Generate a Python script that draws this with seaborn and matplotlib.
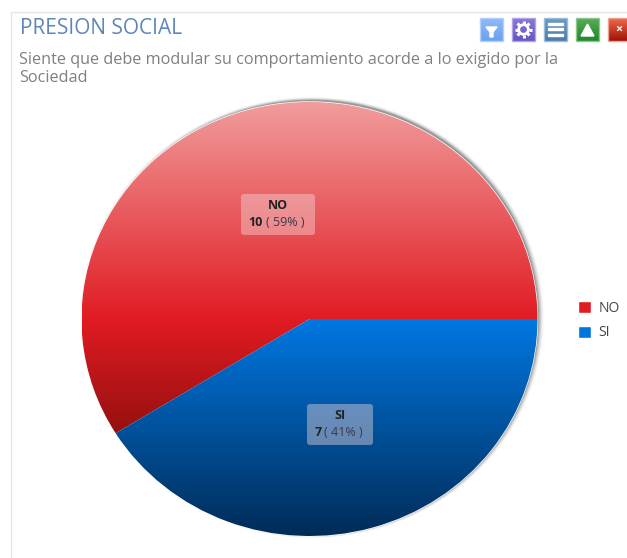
import numpy as np
import matplotlib
matplotlib.use("Agg")
import matplotlib.pyplot as plt
from matplotlib.colors import LinearSegmentedColormap
from matplotlib.patches import Ellipse, FancyBboxPatch, Polygon, Rectangle, Circle
import seaborn as sns

categories = ["NO", "SI"]
counts = [10, 7]
percents = [59, 41]
title = "PRESION SOCIAL"
subtitle = "Siente que debe modular su comportamiento acorde a lo exigido por la\nSociedad"

sns.set_theme(style="white")
plt.rcParams["font.family"] = ["Open Sans", "DejaVu Sans"]

W, H = 627, 558
palette = sns.color_palette(["#e01b22", "#0075dc"])
fig = plt.figure(figsize=(W / 100, H / 100), dpi=100, facecolor="white")

bg = fig.add_axes([0, 0, 1, 1], zorder=0)
bg.set_xlim(0, W); bg.set_ylim(H, 0); bg.axis("off")
bg.plot([11, 11, W], [H, 12, 12], color="#e2e7eb", lw=1.0)
bg.text(20, 29, title, fontsize=15, color="#5f86b8", va="center", ha="left", family="Open Sans")
bg.text(19, 59.5, subtitle.split("\n")[0], fontsize=11.7, color="#808080", va="center", ha="left")
bg.text(19, 77.5, subtitle.split("\n")[1], fontsize=11.7, color="#808080", va="center", ha="left")

# soft shadow, heavier to the right, none below
cx, cy, rx, ry = 309.5, 319, 228, 217
for i, a in zip(range(7, 0, -1), [0.02, 0.03, 0.05, 0.06, 0.08, 0.10, 0.14]):
    bg.add_patch(Ellipse((cx + 2.5, cy - 1.5), 2 * (rx + i * 0.85 - 2), 2 * (ry + i * 0.5),
                         facecolor="black", alpha=a, edgecolor="none"))

def icon(x0, w, c1, c2, edge):
    g = LinearSegmentedColormap.from_list("g", [c1, c2])
    bg.imshow(np.linspace(0, 1, 32)[:, None], extent=(x0, x0 + w, 41, 18), cmap=g, aspect="auto", zorder=2)
    bg.add_patch(Rectangle((x0, 18), w, 23, fill=False, ec=edge, lw=1.0, zorder=3))

icon(480, 23, "#8fbaf6", "#6aa2f0", "#b4d0f8")
bg.add_patch(Polygon([(486, 27), (497, 27), (493, 32), (493, 37), (490, 37), (490, 32)], color="white", zorder=4))
icon(512, 23, "#8a78d8", "#6a55c4", "#b0a4e4")
bg.add_patch(Circle((523.5, 29.5), 4.8, fill=False, ec="white", lw=2.0, zorder=4))
for ang in np.arange(0, 360, 45):
    ca, sa = np.cos(np.radians(ang)), np.sin(np.radians(ang))
    bg.plot([523.5 + 5.5 * ca, 523.5 + 8.5 * ca], [29.5 + 5.5 * sa, 29.5 + 8.5 * sa],
            color="white", lw=2.2, solid_capstyle="butt", zorder=4)
icon(544, 23, "#6d9cc4", "#4a7cac", "#9cbcd8")
for y in (24.5, 29.5, 35):
    bg.add_patch(Rectangle((548, y - 1.2), 15, 2.2, color="white", zorder=4))
icon(576, 23, "#5aaa5a", "#1e8a2a", "#8cc88c")
bg.add_patch(Polygon([(581, 36), (594, 36), (587.5, 24)], color="white", zorder=4))
icon(608, 23, "#ee6a48", "#a01208", "#f0a090")
bg.text(619, 29.5, "×", color="white", fontsize=9, fontweight="bold", ha="center", va="center", zorder=4)
bg.set_xlim(0, W); bg.set_ylim(H, 0)

ax = fig.add_axes([(cx - rx) / W, 1 - (cy + ry) / H, 2 * rx / W, 2 * ry / H], zorder=1)
ax.patch.set_alpha(0)
wedges, _ = ax.pie(counts, labels=None, colors=palette, startangle=0, counterclock=True, radius=1)
ax.set_aspect("auto")

red = LinearSegmentedColormap.from_list("r", [(0, "#f19c9c"), (0.66, "#e01b22"), (1, "#96100f")])
blue = LinearSegmentedColormap.from_list("b", [(0, "#0078e2"), (1, "#002c58")])
bottoms = [-0.525, -1.0]
tops = [1.0, 0.0]
for w, cm, t, b in zip(wedges, [red, blue], tops, bottoms):
    im = ax.imshow(np.linspace(0, 1, 256)[:, None], extent=(-1, 1, b, t), cmap=cm, aspect="auto", zorder=2)
    im.set_clip_path(w)
ax.set_xlim(-1, 1); ax.set_ylim(-1, 1)

fg = fig.add_axes([0, 0, 1, 1], zorder=2)
fg.set_xlim(0, W); fg.set_ylim(H, 0); fg.axis("off"); fg.patch.set_alpha(0)
boxes = [(241, 194, 74, 41), (307, 404, 66, 41)]
num_x = [248, 315]
txt_x = [266, 324]
for (x, y, bw, bh), nx, tx, cat, n, p in zip(boxes, num_x, txt_x, categories, counts, percents):
    fg.add_patch(FancyBboxPatch((x + 3, y + 3), bw - 6, bh - 6, boxstyle="round,pad=3,rounding_size=3",
                                fc="#f6dcdc", ec="none", alpha=0.42))
    fg.text(x + bw / 2, y + 11.5, cat, fontsize=9, fontweight="bold", color="#222222", ha="center", va="center")
    fg.text(nx, y + 28, str(n), fontsize=9, fontweight="bold", color="#222222", ha="left", va="center")
    fg.text(tx, y + 28, f"( {p}% )", fontsize=9, color="#3a3a4a", ha="left", va="center")

fig.legend(wedges, categories, loc="upper left", bbox_to_anchor=(575.5 / W, 1 - 298 / H),
           bbox_transform=fig.transFigure, frameon=False, fontsize=10, handlelength=0.95,
           handleheight=1.0, handletextpad=0.5, labelspacing=0.7, borderpad=0.2, borderaxespad=0,
           labelcolor="#444444")

fig.savefig("out.png", dpi=100)
